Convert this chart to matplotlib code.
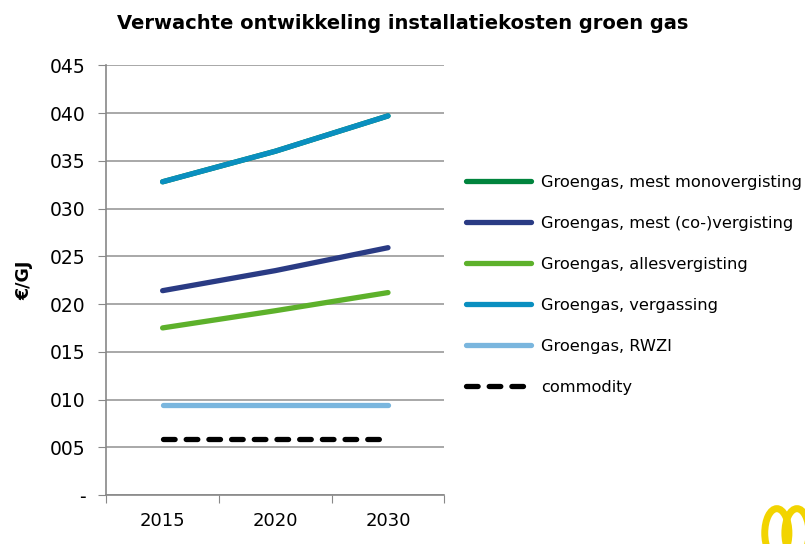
import matplotlib.pyplot as plt
from matplotlib.patches import Ellipse

# data (EUR/GJ)
years = ["2015", "2020", "2030"]
mono = [32.8, 36.0, 39.7]        # hidden behind vergassing
co_verg = [21.4, 23.5, 25.9]
alles = [17.5, 19.3, 21.2]
vergassing = [32.8, 36.0, 39.7]
rwzi = [9.4, 9.4, 9.4]
commodity = [5.85, 5.85, 5.85]

labels = [
    "Groengas, mest monovergisting",
    "Groengas, mest (co-)vergisting",
    "Groengas, allesvergisting",
    "Groengas, vergassing",
    "Groengas, RWZI",
    "commodity",
]
colors = ["#00843d", "#2a3b84", "#5db12b", "#0a8fc0", "#7ab6de", "black"]
series = [mono, co_verg, alles, vergassing, rwzi, commodity]

plt.rcParams["font.family"] = ["DejaVu Sans"]

fig = plt.figure(figsize=(8.05, 5.44), dpi=100)
ax = fig.add_axes([0.132, 0.090, 0.420, 0.790])

x = range(len(years))
for vals, lab, col in zip(series, labels, colors):
    if lab == "commodity":
        ax.plot(x, vals, color=col, lw=3.8, ls=(0, (2.2, 2.1)),
                dash_capstyle="round", label=lab)
    else:
        ax.plot(x, vals, color=col, lw=3.8, solid_capstyle="round", label=lab)

ax.set_xlim(-0.5, 2.5)
ax.set_ylim(0, 45)
ax.set_yticks(range(0, 50, 5))
ax.set_yticklabels(["-"] + ["%03d" % v for v in range(5, 50, 5)])
ax.set_xticks([-0.5, 0.5, 1.5, 2.5], minor=False)
ax.set_xticklabels([])
ax.set_xticks(list(x), minor=True)
ax.set_xticklabels(years, minor=True)
ax.tick_params(axis="x", which="minor", length=0, labelsize=13, pad=12)
ax.tick_params(axis="x", which="major", length=6, color="#888888", direction="out")
ax.tick_params(axis="y", length=6, color="#888888", labelsize=13.5, pad=9)

ax.grid(axis="y", color="#999999", lw=1.2)
ax.set_axisbelow(True)
for s in ["top", "right"]:
    ax.spines[s].set_visible(False)
for s in ["left", "bottom"]:
    ax.spines[s].set_color("#888888")
    ax.spines[s].set_linewidth(1.2)

ax.set_ylabel("€/GJ", fontsize=12.5, fontweight="bold", labelpad=12)
fig.suptitle("Verwachte ontwikkeling installatiekosten groen gas",
             x=0.5, y=0.975, fontsize=14, fontweight="bold")

fig.legend(loc="upper left", bbox_to_anchor=(0.571, 0.69), frameon=False,
           fontsize=11.7, handlelength=4.0, handletextpad=0.6, labelspacing=1.6,
           borderaxespad=0)

# logo fragment in the corner
for cx in (0.965, 0.99):
    fig.patches.append(Ellipse((cx, 0.02), 0.03, 0.09, transform=fig.transFigure,
                               facecolor="none", edgecolor="#f2d400", lw=5))

fig.savefig("out.png", dpi=100)
